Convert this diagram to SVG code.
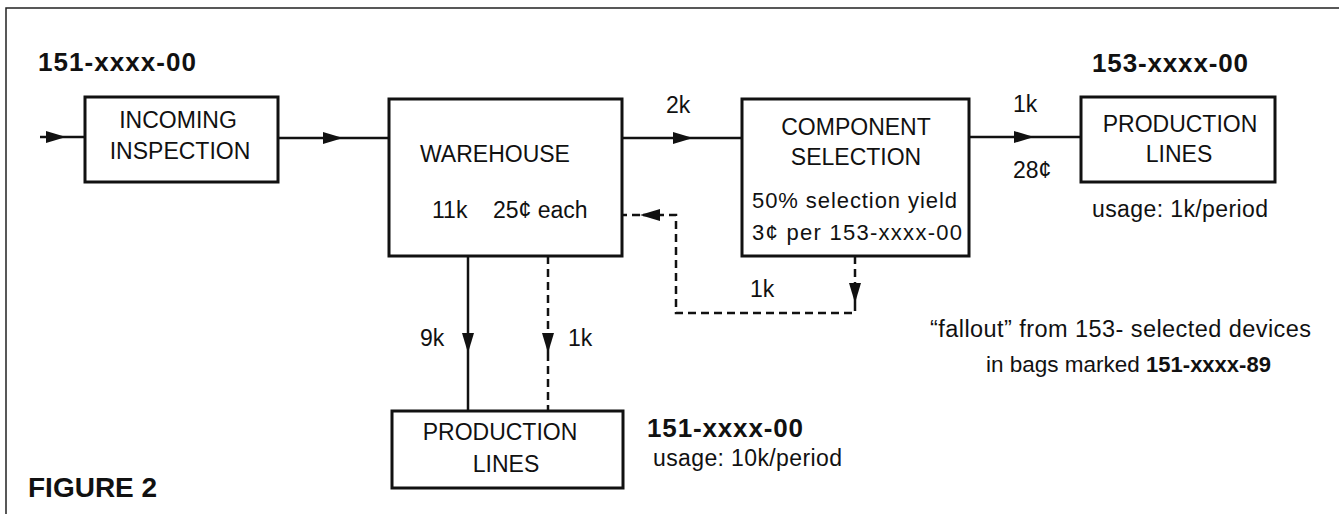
<svg xmlns="http://www.w3.org/2000/svg" width="1339" height="514" viewBox="0 0 1339 514">
<style>
  text { font-family: "Liberation Sans", Arial, sans-serif; fill: #111; }
  .box { fill: #fff; stroke: #111; stroke-width: 3; }
  .t { font-size: 23px; }
  .s { font-size: 22px; }
  .b { font-size: 26px; font-weight: bold; }
  .c { text-anchor: middle; }
  .line { fill: none; stroke: #111; stroke-width: 2.5; }
  .dash { fill: none; stroke: #111; stroke-width: 2.5; stroke-dasharray: 8 5; }
  .frame { fill: none; stroke: #222; stroke-width: 1.5; }
</style>
<defs>
  <marker id="ah" viewBox="0 0 20 12" refX="20" refY="6" markerWidth="20" markerHeight="12" markerUnits="userSpaceOnUse" orient="auto">
    <path d="M0,0 L20,6 L0,12 Z" fill="#111"/>
  </marker>
</defs>
<rect width="1339" height="514" fill="#fff"/>
<path class="frame" d="M6,514 V8 H1339"/>

<text class="b" x="38" y="71" textLength="158">151-xxxx-00</text>
<text class="b" x="1092" y="72" textLength="156">153-xxxx-00</text>

<g id="connectors">
  <path class="line" d="M40,137 H66" marker-end="url(#ah)"/>
  <path class="line" d="M66,137 H85"/>
  <path class="line" d="M278,138 H343" marker-end="url(#ah)"/>
  <path class="line" d="M343,138 H389"/>
  <path class="line" d="M622,138 H693" marker-end="url(#ah)"/>
  <path class="line" d="M693,138 H742"/>
  <path class="line" d="M969,137 H1034" marker-end="url(#ah)"/>
  <path class="line" d="M1034,137 H1081"/>
  <path class="line" d="M468,256 V353" marker-end="url(#ah)"/>
  <path class="line" d="M468,353 V411"/>
  <path class="dash" d="M548,256 V353" marker-end="url(#ah)"/>
  <path class="dash" d="M548,353 V411"/>
  <path class="dash" d="M855,256 V303" marker-end="url(#ah)"/>
  <path class="dash" d="M855,303 V313 H676 V215 H640" marker-end="url(#ah)"/>
  <path class="dash" d="M640,215 H623"/>
  <text class="t" x="666" y="113">2k</text>
  <text class="t" x="1013" y="112">1k</text>
  <text class="t" x="1013" y="178">28¢</text>
  <text class="t" x="420" y="346">9k</text>
  <text class="t" x="568" y="346">1k</text>
  <text class="t" x="750" y="297">1k</text>
</g>

<g id="incoming">
  <rect class="box" x="85" y="97" width="193" height="85"/>
  <text class="t c" x="178" y="128">INCOMING</text>
  <text class="t c" x="180" y="159">INSPECTION</text>
</g>

<g id="warehouse">
  <rect class="box" x="389" y="99" width="233" height="157"/>
  <text class="t" x="420" y="162">WAREHOUSE</text>
  <text class="t" x="432" y="218">11k</text>
  <text class="t" x="493" y="218">25¢ each</text>
</g>

<g id="component">
  <rect class="box" x="742" y="99" width="227" height="157"/>
  <text class="t c" x="856" y="135">COMPONENT</text>
  <text class="t c" x="856" y="165">SELECTION</text>
  <text class="s" x="752" y="208" textLength="205">50% selection yield</text>
  <text class="s" x="752" y="240" textLength="210">3¢ per 153-xxxx-00</text>
</g>

<g id="prod153">
  <rect class="box" x="1081" y="97" width="194" height="85"/>
  <text class="t c" x="1180" y="132">PRODUCTION</text>
  <text class="t c" x="1179" y="162">LINES</text>
  <text class="t" x="1092" y="217" textLength="176">usage: 1k/period</text>
</g>

<g id="prod151">
  <rect class="box" x="392" y="411" width="231" height="77"/>
  <text class="t c" x="500" y="440">PRODUCTION</text>
  <text class="t c" x="506" y="472">LINES</text>
  <text class="b" x="647" y="437" textLength="156">151-xxxx-00</text>
  <text class="t" x="653" y="466" textLength="189">usage: 10k/period</text>
</g>

<g id="fallout">
  <text x="930" y="337" textLength="381" style="font-size:23.5px">“fallout” from 153- selected devices</text>
  <text x="986" y="372" style="font-size:22.5px">in bags marked <tspan style="font-weight:bold;font-size:22px">151-xxxx-89</tspan></text>
</g>

<text x="28" y="497" style="font-size:28px;font-weight:bold">FIGURE 2</text>
</svg>
